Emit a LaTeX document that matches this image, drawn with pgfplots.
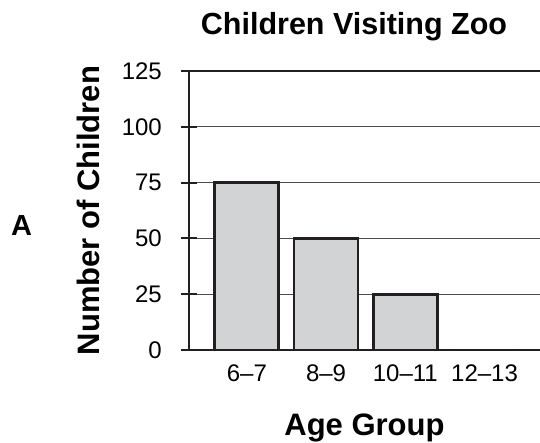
\documentclass[border=0pt]{standalone}
\usepackage{fontspec}
\setmainfont{Liberation Sans}
\usepackage{pgfplots}
\pgfplotsset{compat=1.18}
\definecolor{barfill}{RGB}{209,211,212}
\definecolor{axisblack}{RGB}{35,31,32}
\begin{document}
\begin{tikzpicture}[x=1pt,y=1pt]
\useasboundingbox (0,0) rectangle (540,442);
\begin{axis}[
at={(189pt,92pt)}, anchor=south west,
scale only axis,
width=351pt, height=279pt,
xmin=-0.73, xmax=3.70,
ymin=0, ymax=125,
ytick={0,25,50,75,100,125},
xtick={0,1,2,3},
xticklabels={6--7,8--9,10--11,12--13},
axis x line=bottom, axis y line=left,
axis line style={line width=2pt, color=axisblack, -},
x axis line style={shorten <=-8pt},
ymajorgrids,
grid style={line width=1.2pt, color=black!70},
major y tick style={line width=2pt, color=axisblack},
major x tick style={draw=none},
tick align=center,
major tick length=16pt,
/pgf/number format/assume math mode=true,
tick label style={font=\fontsize{24}{24}\selectfont},
yticklabel style={anchor=east, inner sep=0pt, xshift=-19pt},
xticklabel style={anchor=base, inner sep=0pt, yshift=-15pt},
title={Children Visiting Zoo},
title style={font=\fontsize{30.5}{30.5}\selectfont\bfseries, at={(axis description cs:0.47,1.11)}, anchor=base, inner sep=0pt},
xlabel={Age Group},
xlabel style={font=\fontsize{31}{31}\selectfont\bfseries, at={(axis description cs:0.5,-0.305)}, anchor=base, inner sep=0pt},
ylabel={Number of Children},
ylabel style={font=\fontsize{31}{31}\selectfont\bfseries, at={(axis description cs:-0.2536,0.5)}, anchor=base, inner sep=0pt},
ybar, bar width=64pt,
clip=false,
]
\addplot[fill=barfill, draw=axisblack, line width=2.8pt] coordinates {
(0,75) (1,50) (2,25) (3,0)
};
\draw[line width=2pt, color=axisblack] (rel axis cs:0,1) -- (rel axis cs:1,1);
\end{axis}
\node[font=\fontsize{29}{29}\selectfont\bfseries, inner sep=0pt] at (21.5,216.5) {A};
\end{tikzpicture}
\end{document}
